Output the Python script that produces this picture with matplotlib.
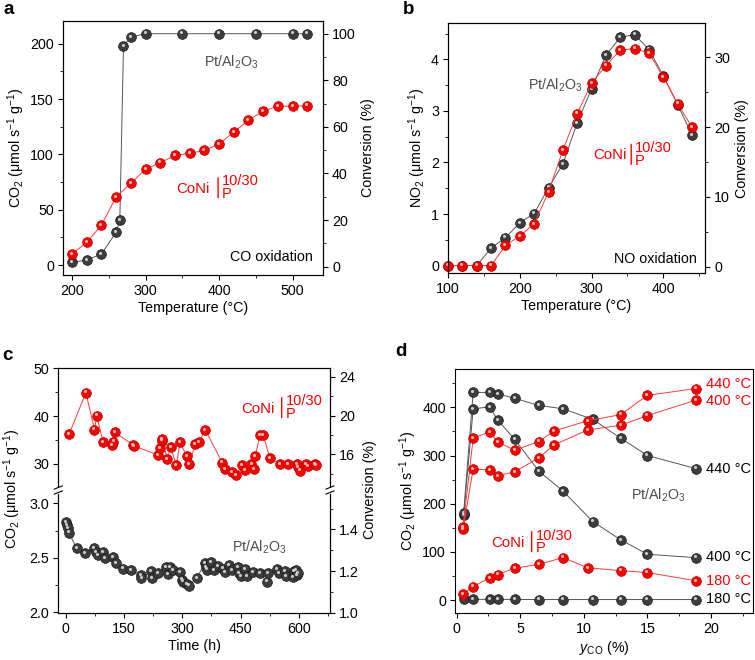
import matplotlib
matplotlib.use("Agg")
import matplotlib.pyplot as plt
import matplotlib.transforms as mtrans
from matplotlib.lines import Line2D
from matplotlib.ticker import MultipleLocator, FormatStrFormatter

plt.rcParams['font.family'] = ['Liberation Sans', 'DejaVu Sans']
plt.rcParams['font.size'] = 10.3
plt.rcParams['mathtext.fontset'] = 'custom'
plt.rcParams['mathtext.rm'] = 'Liberation Sans'
plt.rcParams['mathtext.it'] = 'Liberation Sans:italic'
plt.rcParams['mathtext.bf'] = 'Liberation Sans:bold'
plt.rcParams['xtick.direction'] = 'out'
plt.rcParams['ytick.direction'] = 'out'
plt.rcParams['xtick.major.size'] = 3.5
plt.rcParams['ytick.major.size'] = 3.5
plt.rcParams['xtick.minor.size'] = 2
plt.rcParams['ytick.minor.size'] = 2
plt.rcParams['xtick.major.pad'] = 3
plt.rcParams['ytick.major.pad'] = 3
plt.rcParams['axes.linewidth'] = 0.8

# ---------------- data ----------------
# panel a: CO oxidation
a_pt_T = [200, 220, 240, 260, 265, 270, 280, 300, 350, 400, 450, 500, 520]
a_pt_co2 = [2.4, 4.5, 10, 29.5, 40.5, 198, 206, 209, 209, 209, 209, 209, 209]
a_coni_T = [200, 220, 240, 260, 280, 300, 320, 340, 360, 380, 400, 420, 440, 460, 480, 500, 520]
a_coni_co2 = [10, 20.5, 36, 61.5, 74, 86.5, 92.5, 99, 101, 103.5, 109.5, 120, 131, 139, 143.5, 143.5, 144]

# panel b: NO oxidation
b_pt_T = [100, 120, 140, 160, 180, 200, 220, 240, 260, 280, 300, 320, 340, 360, 380, 400, 420, 440]
b_pt_no2 = [0, 0, 0, 0.34, 0.54, 0.83, 1.01, 1.51, 1.97, 2.77, 3.43, 4.08, 4.43, 4.48, 4.19, 3.68, 3.12, 2.53]
b_coni_T = [100, 120, 140, 160, 180, 200, 220, 240, 260, 280, 300, 320, 340, 360, 380, 400, 420, 440]
b_coni_no2 = [0, 0, 0, 0, 0.39, 0.575, 0.81, 1.43, 2.24, 2.95, 3.54, 3.88, 4.18, 4.21, 4.12, 3.66, 3.14, 2.68]

# panel c: stability
c_coni_t = [8.6, 52, 74, 80, 96, 120, 123, 127, 173, 175, 237, 242, 247, 249, 261, 270, 285, 294,
            311, 318, 333, 343, 359, 403, 411, 429, 438, 454, 461, 478, 484, 488, 500, 508, 525,
            552, 573, 594, 598, 603, 618, 624, 642, 645]
c_coni_co2 = [36.2, 44.9, 37.2, 40.1, 34.6, 33.9, 34.7, 36.6, 34.0, 33.8, 31.9, 33.3, 34.9, 35.2,
              31.0, 33.5, 29.7, 34.6, 31.6, 29.9, 34.1, 34.5, 37.1, 30.3, 28.9, 28.3, 27.7, 29.7,
              28.7, 30.0, 29.0, 31.7, 36.1, 36.1, 31.3, 30.0, 30.0, 30.0, 29.4, 28.6, 30.0, 29.6,
              30.0, 29.7]
c_pt_t = [0, 2.6, 5, 8.6, 28, 50, 73, 77, 82, 97, 101, 122, 129, 148, 168, 194, 195, 219, 221,
          238, 257, 264, 268, 277, 294, 298, 302, 311, 316, 337, 358, 361, 363, 375, 381, 392,
          404, 410, 421, 427, 444, 447, 452, 461, 467, 483, 500, 517, 521, 543, 549, 564, 568,
          585, 587, 592, 594, 598]
c_pt_co2 = [2.83, 2.80, 2.775, 2.73, 2.586, 2.546, 2.586, 2.55, 2.524, 2.555, 2.494, 2.509, 2.453,
            2.40, 2.386, 2.34, 2.31, 2.38, 2.31, 2.356, 2.417, 2.35, 2.417, 2.386, 2.37, 2.30,
            2.28, 2.26, 2.245, 2.31, 2.45, 2.417, 2.39, 2.463, 2.386, 2.423, 2.40, 2.37, 2.432,
            2.386, 2.417, 2.356, 2.33, 2.393, 2.33, 2.37, 2.356, 2.28, 2.356, 2.393, 2.356, 2.38,
            2.33, 2.32, 2.38, 2.386, 2.34, 2.36]

# panel d: CO concentration dependence
d_y = [0.55, 1.3, 2.6, 3.24, 4.55, 6.45, 8.37, 10.7, 12.9, 15.0, 18.8]
d_pt_440 = [181, 431, 431, 428, 419, 404, 397, 375, 336, 300, 273]
d_pt_400 = [176, 397, 401, 373, 334, 268, 226, 163, 125, 95, 88]
d_pt_180 = [1.5, 1.4, 1.4, 1.4, 1.2, 1.0, 1.0, 1.0, 1.0, 1.0, 1.0]
d_coni_y = [0.5, 1.3, 2.6, 3.24, 4.55, 6.45, 7.65, 10.3, 12.9, 15.0, 18.8]
d_coni_440 = [152, 336, 349, 328, 311, 329, 351, 372, 385, 425, 439]
d_coni_400 = [147, 272, 270, 258, 266, 295, 322, 353, 363, 383, 415]
d_coni_y180 = [0.5, 1.3, 2.6, 3.24, 4.55, 6.45, 8.37, 10.3, 12.9, 15.0, 18.8]
d_coni_180 = [12.5, 28, 46, 53, 66, 74, 88, 67, 61, 57, 40]
d_labels = ['440 °C', '400 °C', '440 °C', '400 °C', '180 °C', '180 °C']

RED = '#ff0000'
RED_EDGE = '#b30000'
RED_LINE = '#ff3b3b'
BLK = '#3d3d3d'
BLK_EDGE = '#1a1a1a'
BLK_LINE = '#555555'
GRAY_TXT = '#4d4d4d'

W, H = 755, 660
fig = plt.figure(figsize=(W / 100, H / 100), dpi=100)


def ax_px(l, t, r, b):
    return fig.add_axes([l / W, 1 - b / H, (r - l) / W, (b - t) / H])


def spheres(ax, x, y, kind, z=3, ms=7.0):
    if kind == 'red':
        face, edge, lc = RED, RED_EDGE, RED_LINE
        hl = '#ffd0d0'
    else:
        face, edge, lc = BLK, BLK_EDGE, BLK_LINE
        hl = '#d9d9d9'
    ax.plot(x, y, '-', color=lc, lw=0.7, zorder=z, clip_on=False)
    ax.plot(x, y, 'o', ms=ms, mfc=face, mec=edge, mew=0.5, ls='none', zorder=z + 0.1, clip_on=False)
    tr = mtrans.offset_copy(ax.transData, fig=fig, x=-0.7, y=0.9, units='points')
    ax.plot(x, y, 'o', ms=ms * 0.32, mfc=hl, mec='none', ls='none', alpha=0.9,
            transform=tr, zorder=z + 0.2, clip_on=False)


def coni_label(ax, x, y, bar_dx=40):
    """CoNi |^{10/30}_P label; (x, y) = left/baseline of 'CoNi' in axes fraction."""
    def off(dx, dy):
        return mtrans.offset_copy(ax.transAxes, fig=fig, x=dx, y=dy, units='dots')
    ax.text(x, y, 'CoNi', transform=ax.transAxes, color=RED, ha='left', va='baseline', fontsize=10.8)
    ax.text(x, y, '10/30\nP', transform=off(bar_dx + 4, 5), color=RED, ha='left', va='center',
            fontsize=10.5, linespacing=0.86, multialignment='left')
    ax.annotate('', xy=(x, y), xycoords=off(bar_dx, -5), xytext=(x, y), textcoords=off(bar_dx, 15),
                arrowprops=dict(arrowstyle='-', color=RED, lw=1.0, shrinkA=0, shrinkB=0))


ylab_co2 = r'CO$_2$ (μmol s$^{-1}$ g$^{-1}$)'

# ---------------- panel a ----------------
axa = ax_px(63, 21, 323, 275)
axa.set_xlim(187.7, 541.4)
axa.set_ylim(-9.0, 220.5)
axa.xaxis.set_major_locator(MultipleLocator(100))
axa.xaxis.set_minor_locator(MultipleLocator(50))
axa.yaxis.set_major_locator(MultipleLocator(50))
axa.yaxis.set_minor_locator(MultipleLocator(25))
spheres(axa, a_pt_T, a_pt_co2, 'black', z=3)
spheres(axa, a_coni_T, a_coni_co2, 'red', z=4)
axa.set_xlabel('Temperature (°C)', labelpad=2)
axa.set_ylabel(ylab_co2, labelpad=2)
axa2 = axa.twinx()
axa2.set_ylim(-3.57, 105.4)
axa2.yaxis.set_major_locator(MultipleLocator(20))
axa2.yaxis.set_minor_locator(MultipleLocator(10))
axa2.set_ylabel('Conversion (%)', labelpad=4)
axa.text(0.542, 0.839, r'Pt/Al$_2$O$_3$', transform=axa.transAxes, color=GRAY_TXT, va='center', ha='left')
coni_label(axa, 0.435, 0.324, bar_dx=42)
axa.text(0.962, 0.071, 'CO oxidation', transform=axa.transAxes, color='black', va='center', ha='right')
fig.text(3 / W, 1 - 9 / H, 'a', fontsize=13.5, fontweight='bold', va='center', ha='left')

# ---------------- panel b ----------------
axb = ax_px(448, 23.3, 705, 273.3)
axb.set_xlim(100, 458)
axb.set_ylim(-0.15, 4.70)
axb.xaxis.set_major_locator(MultipleLocator(100))
axb.xaxis.set_minor_locator(MultipleLocator(50))
axb.yaxis.set_major_locator(MultipleLocator(1))
axb.yaxis.set_minor_locator(MultipleLocator(0.5))
spheres(axb, b_pt_T, b_pt_no2, 'black', z=3)
spheres(axb, b_coni_T, b_coni_no2, 'red', z=4)
axb.set_xlabel('Temperature (°C)', labelpad=2)
axb.set_ylabel(r'NO$_2$ (μmol s$^{-1}$ g$^{-1}$)', labelpad=2)
axb2 = axb.twinx()
axb2.set_ylim(-0.96, 34.87)
axb2.yaxis.set_major_locator(MultipleLocator(10))
axb2.yaxis.set_minor_locator(MultipleLocator(5))
axb2.set_ylabel('Conversion (%)', labelpad=4)
axb.text(0.311, 0.753, r'Pt/Al$_2$O$_3$', transform=axb.transAxes, color=GRAY_TXT, va='center', ha='left')
coni_label(axb, 0.565, 0.456, bar_dx=38)
axb.text(0.969, 0.057, 'NO oxidation', transform=axb.transAxes, color='black', va='center', ha='right')
fig.text(403 / W, 1 - 9 / H, 'b', fontsize=13.5, fontweight='bold', va='center', ha='left')

# ---------------- panel c (broken axis) ----------------
c_xlim = (-19, 680)
axct = ax_px(58.3, 368.3, 330, 486)
axcb = ax_px(58.3, 494, 330, 612.7)
for ax in (axct, axcb):
    ax.set_xlim(*c_xlim)
axct.set_ylim(25.4, 50)
axcb.set_ylim(1.995, 3.086)
axct.spines['bottom'].set_visible(False)
axcb.spines['top'].set_visible(False)
axct.tick_params(axis='x', which='both', bottom=False, labelbottom=False)
axct.set_yticks([30, 40, 50])
axct.yaxis.set_minor_locator(MultipleLocator(5))
axcb.set_yticks([2.0, 2.5, 3.0])
axcb.yaxis.set_minor_locator(MultipleLocator(0.25))
axcb.yaxis.set_major_formatter(FormatStrFormatter('%.1f'))
axcb.xaxis.set_major_locator(MultipleLocator(150))
axcb.xaxis.set_minor_locator(MultipleLocator(75))
spheres(axct, c_coni_t, c_coni_co2, 'red', z=4)
spheres(axcb, c_pt_t, c_pt_co2, 'black', z=3)
axcb.set_xlabel('Time (h)', labelpad=2)

axct2 = axct.twinx()
axct2.set_ylim(12.73, 24.87)
axct2.set_yticks([16, 20, 24])
axct2.yaxis.set_minor_locator(MultipleLocator(2))
axct2.spines['bottom'].set_visible(False)
axcb2 = axcb.twinx()
axcb2.set_ylim(1.0, 1.57)
axcb2.set_yticks([1.0, 1.2, 1.4])
axcb2.yaxis.set_minor_locator(MultipleLocator(0.1))
axcb2.yaxis.set_major_formatter(FormatStrFormatter('%.1f'))
axcb2.spines['top'].set_visible(False)

fig.text(12 / W, 1 - 489 / H, ylab_co2, rotation=90, va='center', ha='center')
fig.text(370 / W, 1 - 490 / H, 'Conversion (%)', rotation=90, va='center', ha='center')

# break marks
for xb in (58.3, 330):
    for yb in (487.5, 492.5):
        fig.add_artist(Line2D([(xb - 4) / W, (xb + 4) / W], [1 - (yb + 1.6) / H, 1 - (yb - 1.6) / H],
                              color='black', lw=0.8, transform=fig.transFigure))

coni_label(axct, 0.675, 0.623, bar_dx=40)
axcb.text(0.638, 0.553, r'Pt/Al$_2$O$_3$', transform=axcb.transAxes, color=GRAY_TXT, va='center', ha='left')
fig.text(2 / W, 1 - 355 / H, 'c', fontsize=13.5, fontweight='bold', va='center', ha='left')

# ---------------- panel d ----------------
axd = ax_px(455, 369.3, 753, 612.7)
axd.set_xlim(-0.13, 23.3)
axd.set_ylim(-26.3, 479)
axd.xaxis.set_major_locator(MultipleLocator(5))
axd.xaxis.set_minor_locator(MultipleLocator(2.5))
axd.yaxis.set_major_locator(MultipleLocator(100))
axd.yaxis.set_minor_locator(MultipleLocator(50))
spheres(axd, d_y, d_pt_180, 'black', z=3)
spheres(axd, d_y, d_pt_400, 'black', z=3)
spheres(axd, d_y, d_pt_440, 'black', z=3)
spheres(axd, d_coni_y180, d_coni_180, 'red', z=4)
spheres(axd, d_coni_y, d_coni_400, 'red', z=4)
spheres(axd, d_coni_y, d_coni_440, 'red', z=4)
axd.set_xlabel(r'$y_{\mathrm{CO}}$ (%)', labelpad=2)
axd.set_ylabel(ylab_co2, labelpad=2)
lab_pos = [448, 414, 271, 88.6, 40, 1.4]   # label heights (data units) as placed in the reference
lab_c = [RED, RED, 'black', 'black', RED, 'black']
for s, yv, col in zip(d_labels, lab_pos, lab_c):
    axd.text(19.6, yv, s, color=col, va='center', ha='left', fontsize=10.5)
axd.text(0.589, 0.484, r'Pt/Al$_2$O$_3$', transform=axd.transAxes, color=GRAY_TXT, va='center', ha='left')
coni_label(axd, 0.123, 0.271, bar_dx=40)
fig.text(395 / W, 1 - 352 / H, 'd', fontsize=13.5, fontweight='bold', va='center', ha='left')

fig.savefig('out.png', dpi=100)
